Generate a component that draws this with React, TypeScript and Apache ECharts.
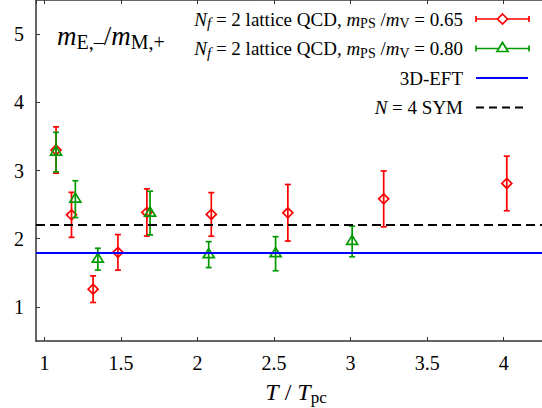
import React, { useEffect, useRef } from "react";
import * as echarts from "echarts";

// ---- data ----
const redX = [1.076, 1.177, 1.318, 1.48, 1.669, 2.09, 2.59, 3.216, 4.02];
const redY = [3.3, 2.35, 1.26, 1.8, 2.385, 2.356, 2.38, 2.584, 2.81];
const redErr = [0.34, 0.33, 0.195, 0.26, 0.346, 0.32, 0.415, 0.41, 0.4];

const greenX = [1.076, 1.202, 1.349, 1.69, 2.073, 2.51, 3.01];
const greenY = [3.27, 2.58, 1.7, 2.376, 1.767, 1.78, 1.96];
const greenErr = [0.29, 0.27, 0.16, 0.32, 0.19, 0.25, 0.225];

const eftValue = 1.8;
const symValue = 2.2;

const xMin = 0.945;
const xMax = 4.25;
const yMin = 0.5;
const yMax = 5.5;

const FONT = "Liberation Serif";
const RED = "#ff0000";
const GREEN = "#009a00";
const BLUE = "#0000ff";
const AXIS = "#333333";

function errorSeries(xs: number[], ys: number[], es: number[], color: string, shape: "diamond" | "triangle") {
  return {
    type: "custom",
    xAxisIndex: 0,
    yAxisIndex: 0,
    z: 3,
    data: xs.map((x, i) => [x, ys[i], es[i]]),
    renderItem: (_params: any, api: any) => {
      const x = api.value(0);
      const y = api.value(1);
      const e = api.value(2);
      const c = api.coord([x, y]);
      const t = api.coord([x, y + e]);
      const b = api.coord([x, y - e]);
      const style = { stroke: color, lineWidth: 1.7, fill: "none" };
      const marker =
        shape === "diamond"
          ? {
              type: "polygon",
              shape: { points: [[c[0], c[1] - 5], [c[0] + 5, c[1]], [c[0], c[1] + 5], [c[0] - 5, c[1]]] },
              style,
            }
          : {
              type: "polygon",
              shape: { points: [[c[0], c[1] - 6], [c[0] + 5.5, c[1] + 3], [c[0] - 5.5, c[1] + 3]] },
              style,
            };
      return {
        type: "group",
        children: [
          { type: "line", shape: { x1: c[0], y1: t[1], x2: c[0], y2: b[1] }, style },
          { type: "line", shape: { x1: c[0] - 3, y1: t[1], x2: c[0] + 3, y2: t[1] }, style },
          { type: "line", shape: { x1: c[0] - 3, y1: b[1], x2: c[0] + 3, y2: b[1] }, style },
          marker,
        ],
      };
    },
  };
}

const baseRich = (size: number, subScale = 0.72) => ({
  i: { fontFamily: FONT, fontStyle: "italic", fontSize: size, lineHeight: size + 4, verticalAlign: "middle" },
  r: { fontFamily: FONT, fontSize: size, lineHeight: size + 4, verticalAlign: "middle" },
  s: {
    fontFamily: FONT,
    fontSize: Math.round(size * subScale),
    lineHeight: Math.round(size * 0.72),
    verticalAlign: "bottom",
  },
  si: {
    fontFamily: FONT,
    fontStyle: "italic",
    fontSize: Math.round(size * 0.8),
    lineHeight: Math.round(size * 0.72),
    verticalAlign: "bottom",
  },
});

function legendSample(y: number, color: string, kind: "diamond" | "triangle" | "solid" | "dash") {
  const x1 = 476;
  const x2 = 529;
  const cx = (x1 + x2) / 2;
  const els: any[] = [];
  if (kind === "diamond" || kind === "triangle") {
    const st = { stroke: color, lineWidth: 1.7, fill: "none" };
    els.push({ type: "line", shape: { x1, y1: y, x2, y2: y }, style: st });
    els.push({ type: "line", shape: { x1, y1: y - 3, x2: x1, y2: y + 3 }, style: st });
    els.push({ type: "line", shape: { x1: x2, y1: y - 3, x2, y2: y + 3 }, style: st });
    if (kind === "diamond") {
      els.push({
        type: "polygon",
        shape: { points: [[cx, y - 5], [cx + 5, y], [cx, y + 5], [cx - 5, y]] },
        style: { ...st, fill: "#fff" },
      });
    } else {
      els.push({
        type: "polygon",
        shape: { points: [[cx, y - 6], [cx + 5.5, y + 3], [cx - 5.5, y + 3]] },
        style: { ...st, fill: "#fff" },
      });
    }
  } else if (kind === "solid") {
    els.push({ type: "line", shape: { x1, y1: y, x2: x2 - 1, y2: y }, style: { stroke: color, lineWidth: 1.8 } });
  } else {
    els.push({
      type: "line",
      shape: { x1, y1: y, x2: x2 - 3, y2: y },
      style: { stroke: color, lineWidth: 1.8, lineDash: [8, 5] },
    });
  }
  return els;
}

export default function App() {
  const ref = useRef<HTMLDivElement>(null);
  useEffect(() => {
    document.body.style.margin = "0";
    const chart = echarts.init(ref.current!, null, { renderer: "svg" });
    const legRich = baseRich(19);
    const legendTexts = [
      "{i|N}{si|f}{r| = 2 lattice QCD, }{i|m}{s|PS}{r| /}{i|m}{s|V}{r| = 0.65}",
      "{i|N}{si|f}{r| = 2 lattice QCD, }{i|m}{s|PS}{r| /}{i|m}{s|V}{r| = 0.80}",
      "{r|3D-EFT}",
      "{i|N}{r| = 4 SYM}",
    ];
    const rowY = [19, 48.5, 78, 107.5];
    const graphics: any[] = [];
    legendTexts.forEach((t, k) => {
      graphics.push({
        type: "text",
        x: 463,
        y: rowY[k],
        style: { text: t, rich: legRich, align: "right", verticalAlign: "middle", fill: "#000" },
        z: 10,
      });
    });
    graphics.push(...legendSample(rowY[0], RED, "diamond"));
    graphics.push(...legendSample(rowY[1], GREEN, "triangle"));
    graphics.push(...legendSample(rowY[2], BLUE, "solid"));
    graphics.push(...legendSample(rowY[3], "#000", "dash"));
    // plot title
    graphics.push({
      type: "text",
      x: 57,
      y: 36,
      style: {
        text: "{i|m}{s|E,–}{r|/}{i|m}{s|M,+}",
        rich: baseRich(27, 0.75),
        align: "left",
        verticalAlign: "middle",
        fill: "#000",
      },
    });
    // x-axis title
    graphics.push({
      type: "text",
      x: 296,
      y: 392,
      style: {
        text: "{i|T}{r| / }{i|T}{s|pc}",
        rich: baseRich(24),
        align: "center",
        verticalAlign: "middle",
        fill: "#000",
      },
    });

    const axisCommon = {
      axisLine: { show: true, lineStyle: { color: AXIS, width: 1.5 } },
      axisTick: { show: true, inside: true, length: 4, lineStyle: { color: AXIS, width: 1 } },
      splitLine: { show: false },
    };

    chart.setOption({
      animation: false,
      grid: { left: 36, top: 0, right: -17.5, bottom: 67, containLabel: false },
      xAxis: [
        {
          type: "value",
          min: xMin,
          max: xMax,
          splitNumber: 7,
          position: "bottom",
          ...axisCommon,
          axisLabel: {
            margin: 12,
            color: "#000",
            fontFamily: FONT,
            fontSize: 20,
            showMinLabel: false,
            showMaxLabel: false,
            formatter: (v: number) => (Math.abs(v * 2 - Math.round(v * 2)) < 1e-6 ? String(v) : ""),
          },
        },
        {
          type: "value",
          min: xMin,
          max: xMax,
          splitNumber: 7,
          position: "top",
          ...axisCommon,
          axisLabel: { show: false },
        },
      ],
      yAxis: [
        {
          type: "value",
          min: yMin,
          max: yMax,
          splitNumber: 5,
          ...axisCommon,
          axisLabel: {
            margin: 12,
            color: "#000",
            fontFamily: FONT,
            fontSize: 20,
            showMinLabel: false,
            showMaxLabel: false,
            formatter: (v: number) => (Math.abs(v - Math.round(v)) < 1e-6 ? String(v) : ""),
          },
        },
      ],
      series: [
        errorSeries(redX, redY, redErr, RED, "diamond"),
        errorSeries(greenX, greenY, greenErr, GREEN, "triangle"),
        {
          type: "line",
          data: [],
          z: 4,
          markLine: {
            silent: true,
            symbol: "none",
            label: { show: false },
            lineStyle: { color: BLUE, width: 1.8, type: "solid" },
            data: [{ yAxis: eftValue }],
          },
        },
        {
          type: "line",
          data: [],
          z: 4,
          markLine: {
            silent: true,
            symbol: "none",
            label: { show: false },
            lineStyle: { color: "#000", width: 2, type: [9, 5] },
            data: [{ yAxis: symValue }],
          },
        },
      ],
      graphic: graphics,
    });
    return () => chart.dispose();
  }, []);
  return <div ref={ref} style={{ position: "absolute", left: 0, top: 0, width: 542, height: 408 }} />;
}
